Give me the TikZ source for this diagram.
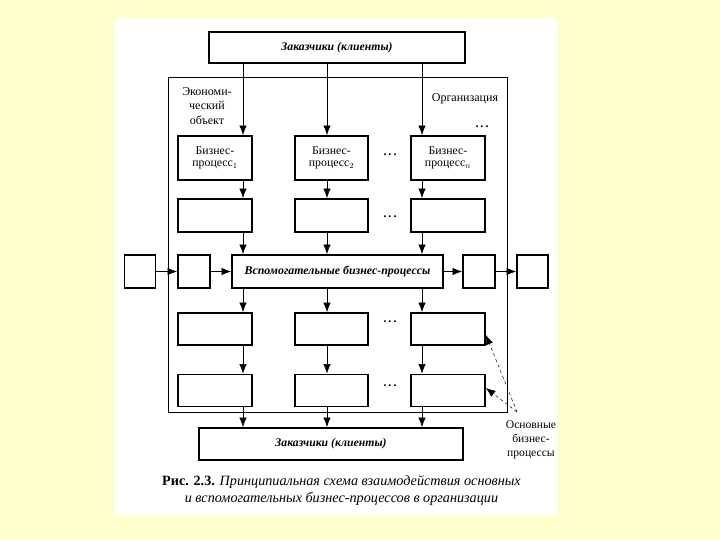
\documentclass[tikz,border=0pt]{standalone}
\usepackage{fontspec}
\setmainfont{Liberation Serif}
\usetikzlibrary{arrows.meta}
\definecolor{bgyellow}{RGB}{255,255,204}
\begin{document}
\begin{tikzpicture}[x=1pt,y=-1pt,
  box/.style={draw,line width=1.9pt,inner sep=0pt,align=center,font=\fontsize{11.8}{12.5}\selectfont},
  arr/.style={-{Latex[length=9.5pt,width=7.5pt]},line width=0.6pt},
  dots/.style={font=\bfseries\fontsize{12}{12}\selectfont},
  lbl/.style={align=center,font=\fontsize{12}{14.5}\selectfont},
  ttl/.style={font=\bfseries\itshape\fontsize{11.7}{12}\selectfont}]
\useasboundingbox (0,0) rectangle (720,540);
\fill[bgyellow] (0,0) rectangle (720,540);
\fill[white] (115,18) rectangle (557,515);
% organisation frame
\draw[line width=0.7pt] (168,77) rectangle (507,412.5);
\node[lbl] (eco) at (207,106) {Экономи-\\ческий\\объект};
\node[lbl] (org) at (465,99) {Организация};
\node[dots] (d0) at (482,127) {.\,.\,.};
% column coordinates
\coordinate (c1) at (243,0);
\coordinate (c2) at (327,0);
\coordinate (c3) at (422,0);
% top and bottom boxes
\node[box,minimum width=256pt,minimum height=31pt,ttl] (top) at (337,47.5) {Заказчики (клиенты)};
\node[box,minimum width=264pt,minimum height=32pt,ttl] (bot) at (331,444) {Заказчики (клиенты)};
% row 1
\node[box,minimum width=74pt,minimum height=44pt] (b11) at (215,158) {Бизнес-\\процесс$_1$};
\node[box,minimum width=73pt,minimum height=44pt] (b12) at (331.5,158) {Бизнес-\\процесс$_2$};
\node[box,minimum width=74pt,minimum height=44pt] (b13) at (448,158) {Бизнес-\\процесс$_n$};
% row 2
\node[box,minimum width=74pt,minimum height=33pt] (b21) at (215,215.5) {};
\node[box,minimum width=73pt,minimum height=33pt] (b22) at (331.5,215.5) {};
\node[box,minimum width=74pt,minimum height=33pt] (b23) at (448,215.5) {};
% auxiliary row
\node[box,minimum width=211pt,minimum height=33pt,font=\bfseries\itshape\fontsize{11.9}{12}\selectfont] (aux) at (337.5,271.5) {Вспомогательные бизнес-процессы};
\node[box,minimum width=31pt,minimum height=33pt] (lout) at (140,271.5) {};
\node[box,minimum width=32pt,minimum height=33pt] (lin) at (194,271.5) {};
\node[box,minimum width=32pt,minimum height=33pt] (rin) at (479,271.5) {};
\node[box,minimum width=31pt,minimum height=33pt] (rout) at (532.5,271.5) {};
% row 3
\node[box,minimum width=74pt,minimum height=32pt] (b31) at (215,329) {};
\node[box,minimum width=73pt,minimum height=32pt] (b32) at (331.5,329) {};
\node[box,minimum width=74pt,minimum height=32pt] (b33) at (448,329) {};
% row 4
\node[box,minimum width=74pt,minimum height=32pt] (b41) at (215,390.5) {};
\node[box,minimum width=73pt,minimum height=32pt] (b42) at (331.5,390.5) {};
\node[box,minimum width=74pt,minimum height=32pt] (b43) at (448,390.5) {};
% dots between columns
\node[dots] (d1) at (390,155) {.\,.\,.};
\node[dots] (d2) at (390,217) {.\,.\,.};
\node[dots] (d3) at (390,322) {.\,.\,.};
\node[dots] (d4) at (390,386) {.\,.\,.};
% vertical arrows
\foreach \i in {1,2,3}{
  \draw[arr] (top.south -| c\i) -- (b1\i.north -| c\i);
  \draw[arr] (b1\i.south -| c\i) -- (b2\i.north -| c\i);
  \draw[arr] (b2\i.south -| c\i) -- (aux.north -| c\i);
  \draw[arr] (aux.south -| c\i) -- (b3\i.north -| c\i);
  \draw[arr] (b3\i.south -| c\i) -- (b4\i.north -| c\i);
  \draw[arr] (b4\i.south -| c\i) -- (bot.north -| c\i);
}
% horizontal arrows
\draw[arr] (lout.east) -- (lin.west);
\draw[arr] (lin.east) -- (aux.west);
\draw[arr] (aux.east) -- (rin.west);
\draw[arr] (rin.east) -- (rout.west);
% main processes label
\node[lbl,font=\fontsize{11.6}{14}\selectfont] (main) at (531,440) {Основные\\бизнес-\\процессы};
\coordinate (conv) at (517,412);
\draw[arr,dashed,line width=0.5pt] (conv) -- ([yshift=-6pt]b33.east);
\draw[arr,dashed,line width=0.5pt] (conv) -- ([yshift=2.5pt]b43.east);
% caption
\node[align=center,font=\fontsize{14.2}{16.5}\selectfont] (cap) at (341.5,490.5)
  {\textbf{Рис. 2.3.} \textit{Принципиальная схема взаимодействия основных}\\
   \textit{и вспомогательных бизнес-процессов в организации}};
\end{tikzpicture}
\end{document}
